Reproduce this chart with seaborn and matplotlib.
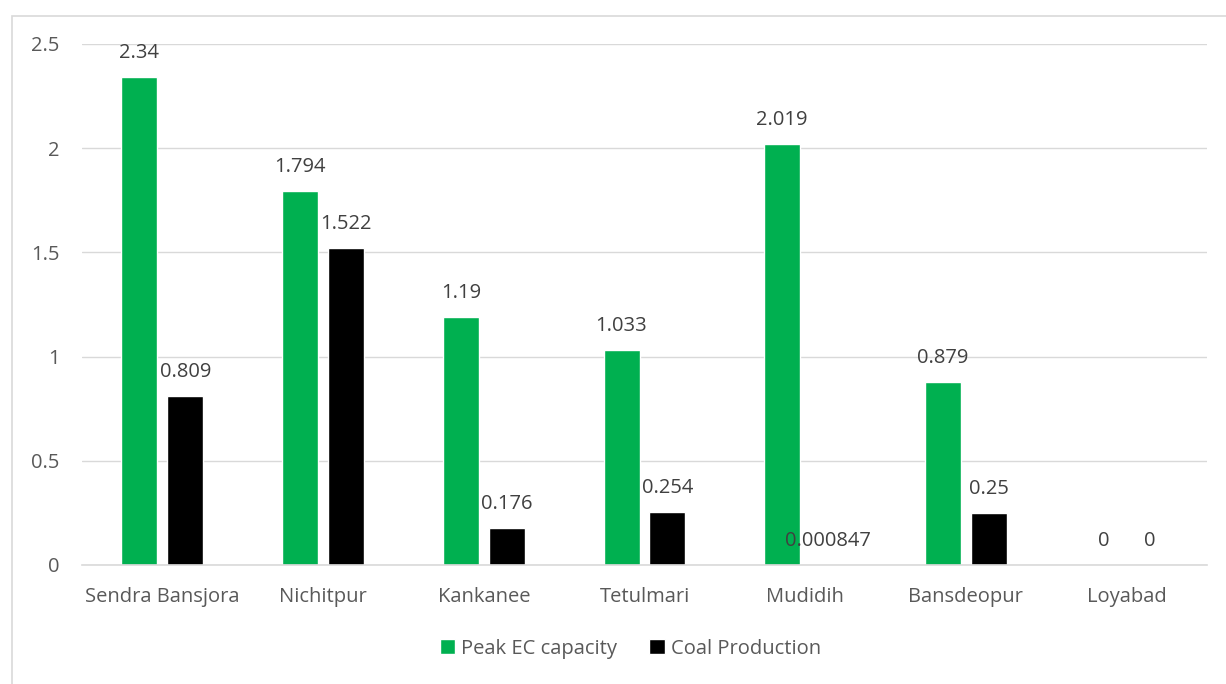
import matplotlib
matplotlib.use("Agg")
import matplotlib.pyplot as plt
from matplotlib.patches import Rectangle
import pandas as pd
import seaborn as sns

# chart data
sites = ["Sendra Bansjora", "Nichitpur", "Kankanee", "Tetulmari",
         "Mudidih", "Bansdeopur", "Loyabad"]
peak_ec = [2.34, 1.794, 1.19, 1.033, 2.019, 0.879, 0]
coal_prod = [0.809, 1.522, 0.176, 0.254, 0.000847, 0.25, 0]
series = ["Peak EC capacity", "Coal Production"]
colors = ["#00B050", "#000000"]

df = pd.DataFrame({
    "site": sites * 2,
    "value": peak_ec + coal_prod,
    "series": [series[0]] * len(sites) + [series[1]] * len(sites),
})

sns.set_style("white")
plt.rcParams["font.family"] = ["Open Sans", "DejaVu Sans"]

fig = plt.figure(figsize=(12.26, 6.84), dpi=100)
ax = fig.add_axes([0.0669, 0.174, 0.9176, 0.7617])

sns.barplot(data=df, x="site", y="value", hue="series", order=sites,
            hue_order=series, palette=colors, width=0.572, gap=0.217,
            saturation=1, ax=ax, legend=True)

for cont in ax.containers:
    ax.bar_label(cont, fmt="{:g}", padding=10, fontsize=14.5, color="#404040")

ax.set_ylim(0, 2.5)
ax.set_yticks([0, 0.5, 1, 1.5, 2, 2.5])
ax.set_yticklabels(["0", "0.5", "1", "1.5", "2", "2.5"])
ax.set_xlabel("")
ax.set_ylabel("")
ax.yaxis.grid(True, color="#d9d9d9", linewidth=1)
ax.set_axisbelow(True)
for s in ["top", "right", "left"]:
    ax.spines[s].set_visible(False)
ax.spines["bottom"].set_color("#d9d9d9")
ax.spines["bottom"].set_linewidth(1.2)
ax.tick_params(axis="both", length=0, labelsize=14.5, labelcolor="#595959")
ax.tick_params(axis="y", pad=16)
ax.tick_params(axis="x", pad=16)

ax.legend(loc="center", bbox_to_anchor=(0.4875, -0.161), ncol=2, frameon=False,
          handlelength=0.75, handleheight=0.75, handletextpad=0.3,
          columnspacing=1.6, fontsize=14.5, labelcolor="#595959")

# outer chart border (Excel style)
fig.patches.append(Rectangle((12 / 1226, -0.1), 1.2, 1 - 16 / 684 + 0.1,
                             transform=fig.transFigure, fill=False,
                             edgecolor="#d9d9d9", linewidth=1.2))

fig.savefig("out.png", dpi=100)
